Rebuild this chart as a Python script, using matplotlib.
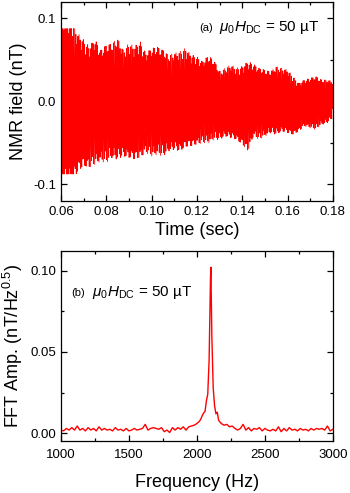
import numpy as np
import matplotlib
matplotlib.use('Agg')
from matplotlib import pyplot as plt
from matplotlib.ticker import MultipleLocator

plt.rcParams['font.family'] = ['Liberation Sans', 'DejaVu Sans']
plt.rcParams['mathtext.fontset'] = 'custom'
plt.rcParams['mathtext.rm'] = 'Liberation Sans'
plt.rcParams['mathtext.it'] = 'Liberation Sans:italic'
plt.rcParams['mathtext.bf'] = 'Liberation Sans:bold'

# (a) free decay: envelope every 2.5 ms
env_t = [0.0600, 0.0625, 0.0650, 0.0675, 0.0700, 0.0725, 0.0750, 0.0775, 0.0800, 0.0825,
         0.0850, 0.0875, 0.0900, 0.0925, 0.0950, 0.0975, 0.1000, 0.1025, 0.1050, 0.1075,
         0.1100, 0.1125, 0.1150, 0.1175, 0.1200, 0.1225, 0.1250, 0.1275, 0.1300, 0.1325,
         0.1350, 0.1375, 0.1400, 0.1425, 0.1450, 0.1475, 0.1500, 0.1525, 0.1550, 0.1575,
         0.1600, 0.1625, 0.1650, 0.1675, 0.1700, 0.1725, 0.1750, 0.1775, 0.1800]
env_top = [0.100, 0.098, 0.095, 0.082, 0.074, 0.066, 0.075, 0.062, 0.068, 0.070,
           0.076, 0.062, 0.070, 0.066, 0.072, 0.058, 0.064, 0.066, 0.062, 0.056,
           0.058, 0.060, 0.064, 0.056, 0.054, 0.048, 0.055, 0.050, 0.036, 0.040,
           0.044, 0.040, 0.042, 0.048, 0.045, 0.040, 0.038, 0.036, 0.042, 0.040,
           0.038, 0.030, 0.022, 0.026, 0.028, 0.030, 0.026, 0.026, 0.024]
env_bot = [-0.100, -0.098, -0.095, -0.085, -0.078, -0.080, -0.076, -0.072, -0.074, -0.068,
           -0.070, -0.066, -0.068, -0.070, -0.068, -0.062, -0.066, -0.064, -0.066, -0.060,
           -0.058, -0.060, -0.055, -0.054, -0.052, -0.050, -0.050, -0.046, -0.046, -0.042,
           -0.044, -0.046, -0.052, -0.060, -0.042, -0.046, -0.042, -0.038, -0.040, -0.036,
           -0.038, -0.040, -0.036, -0.030, -0.032, -0.034, -0.028, -0.026, -0.020]
clip_level = 0.0875      # flat tops at the start of the record
f_nmr = 2103.0           # Hz, from the FFT peak
fs = 10000.0             # sample rate

# (b) spectrum
freq_hz = [1000, 1020, 1040, 1060, 1080, 1100, 1120, 1140, 1160, 1180,
           1200, 1220, 1240, 1260, 1280, 1300, 1320, 1340, 1360, 1380,
           1400, 1420, 1440, 1460, 1480, 1500, 1520, 1540, 1560, 1580,
           1600, 1620, 1640, 1660, 1680, 1700, 1720, 1740, 1760, 1780,
           1800, 1820, 1840, 1860, 1880, 1900, 1920, 1940, 1960, 1980,
           2000, 2020, 2030, 2040, 2050, 2060, 2070, 2080, 2090, 2100,
           2103, 2110, 2120, 2130, 2140, 2150, 2160, 2170, 2180, 2200,
           2220, 2240, 2260, 2280, 2300, 2320, 2340, 2360, 2380, 2400,
           2420, 2440, 2460, 2480, 2500, 2520, 2540, 2560, 2580, 2600,
           2620, 2640, 2660, 2680, 2700, 2720, 2740, 2760, 2780, 2800,
           2820, 2840, 2860, 2880, 2900, 2920, 2940, 2960, 2980, 3000]
fft_amp = [0.0020, 0.0015, 0.0030, 0.0020, 0.0035, 0.0020, 0.0045, 0.0020, 0.0030, 0.0015,
           0.0035, 0.0020, 0.0030, 0.0015, 0.0040, 0.0020, 0.0030, 0.0020, 0.0025, 0.0015,
           0.0035, 0.0020, 0.0025, 0.0015, 0.0030, 0.0015, 0.0020, 0.0030, 0.0020, 0.0025,
           0.0030, 0.0055, 0.0020, 0.0030, 0.0035, 0.0030, 0.0025, 0.0035, 0.0010, 0.0020,
           0.0005, 0.0035, 0.0020, 0.0035, 0.0025, 0.0040, 0.0020, 0.0040, 0.0045, 0.0050,
           0.0060, 0.0075, 0.0090, 0.0110, 0.0125, 0.0135, 0.0200, 0.0240, 0.0450, 0.0950,
           0.1020, 0.0600, 0.0280, 0.0170, 0.0120, 0.0130, 0.0080, 0.0070, 0.0060, 0.0050,
           0.0055, 0.0040, 0.0045, 0.0030, 0.0020, 0.0030, 0.0055, 0.0020, 0.0035, 0.0015,
           0.0030, 0.0025, 0.0035, 0.0015, 0.0030, 0.0020, 0.0015, 0.0025, 0.0015, 0.0040,
           0.0010, 0.0030, 0.0015, 0.0035, 0.0020, 0.0025, 0.0015, 0.0030, 0.0020, 0.0025,
           0.0015, 0.0030, 0.0020, 0.0030, 0.0025, 0.0030, 0.0020, 0.0045, 0.0015, 0.0025]

red = '#ff0000'

t = np.arange(env_t[0], env_t[-1], 1.0 / fs)
top = np.interp(t, env_t, env_top)
bot = np.interp(t, env_t, env_bot)
sig = 0.5 * (top + bot) + 0.5 * (top - bot) * np.cos(2 * np.pi * f_nmr * t)
sig = np.clip(sig, -clip_level, clip_level)

fig = plt.figure(figsize=(3.5, 4.93), dpi=100)
ax1 = fig.add_axes([0.174, 0.5923, 0.777, 0.4043])
ax2 = fig.add_axes([0.174, 0.1055, 0.777, 0.3854])

ax1.plot(t, sig, color=red, lw=0.6)
ax1.set_xlim(0.06, 0.18)
ax1.set_ylim(-0.12, 0.12)
ax1.xaxis.set_major_locator(MultipleLocator(0.02))
ax1.xaxis.set_minor_locator(MultipleLocator(0.01))
ax1.yaxis.set_major_locator(MultipleLocator(0.1))
ax1.yaxis.set_minor_locator(MultipleLocator(0.05))
ax1.xaxis.set_major_formatter(plt.FuncFormatter(lambda v, p: '%.2f' % v))
ax1.yaxis.set_major_formatter(plt.FuncFormatter(lambda v, p: '%.1f' % v))
ax1.set_xlabel('Time (sec)', fontsize=13, labelpad=3)
ax1.set_ylabel('NMR field (nT)', fontsize=13, labelpad=4)
ax1.text(0.507, 0.869, '(a)', transform=ax1.transAxes, fontsize=8, va='center')
ax1.text(0.581, 0.869, r'$\mu_0H_{\rm DC}$ = 50 µT', transform=ax1.transAxes,
         fontsize=11, va='center')

ax2.plot(freq_hz, fft_amp, color=red, lw=1.0)
ax2.set_xlim(1000, 3000)
ax2.set_ylim(-0.0047, 0.112)
ax2.xaxis.set_major_locator(MultipleLocator(500))
ax2.xaxis.set_minor_locator(MultipleLocator(250))
ax2.yaxis.set_major_locator(MultipleLocator(0.05))
ax2.yaxis.set_minor_locator(MultipleLocator(0.025))
ax2.yaxis.set_major_formatter(plt.FuncFormatter(lambda v, p: '%.2f' % v))
ax2.set_xlabel('Frequency (Hz)', fontsize=13, labelpad=9)
ax2.set_ylabel(r'FFT Amp. (nT/Hz$^{0.5}$)', fontsize=13, labelpad=4)
ax2.text(0.037, 0.78, '(b)', transform=ax2.transAxes, fontsize=8, va='center')
ax2.text(0.113, 0.78, r'$\mu_0H_{\rm DC}$ = 50 µT', transform=ax2.transAxes,
         fontsize=11, va='center')

for ax in (ax1, ax2):
    ax.tick_params(which='both', direction='in', top=True, right=True,
                   labelsize=9.5, width=0.9)
    ax.tick_params(which='major', length=4)
    ax.tick_params(which='minor', length=2.5)
    for s in ax.spines.values():
        s.set_linewidth(0.9)
ax2.tick_params(axis='x', which='major', pad=6)

fig.savefig('out.png', dpi=100)
